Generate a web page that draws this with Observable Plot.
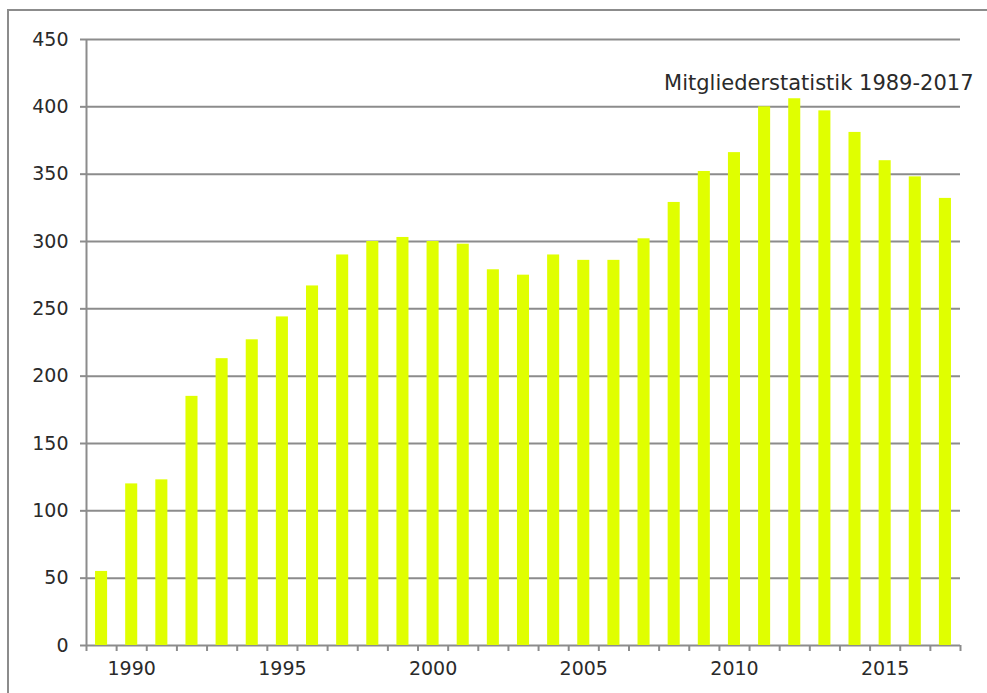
<!DOCTYPE html>
<html>
<head>
<meta charset="utf-8">
<script src="https://cdn.jsdelivr.net/npm/d3@7"></script>
<script src="https://cdn.jsdelivr.net/npm/@observablehq/plot@0.6"></script>
<style>
  html, body { margin: 0; padding: 0; background: #fff; overflow: hidden; }
  #wrap { position: relative; width: 987px; height: 693px; }
  #border { position: absolute; left: 7px; top: 9px; width: 1000px; height: 700px;
            border-left: 2px solid #8c8c8c; border-top: 2px solid #8c8c8c; }
  #chart { position: absolute; left: 0; top: 0; }
</style>
</head>
<body>
<div id="wrap"><div id="border"></div><div id="chart"></div></div>
<script>
const title = "Mitgliederstatistik 1989-2017";
const years = [1989, 1990, 1991, 1992, 1993, 1994, 1995, 1996, 1997, 1998,
               1999, 2000, 2001, 2002, 2003, 2004, 2005, 2006, 2007, 2008,
               2009, 2010, 2011, 2012, 2013, 2014, 2015, 2016, 2017];
const members = [55, 120, 123, 185, 213, 227, 244, 267, 290, 300,
                 303, 300, 298, 279, 275, 290, 286, 286, 302, 329,
                 352, 366, 400, 406, 397, 381, 360, 348, 332];
const yTicks = [0, 50, 100, 150, 200, 250, 300, 350, 400, 450];
const xLabels = [1990, 1995, 2000, 2005, 2010, 2015];

const data = years.map((y, i) => ({year: y, value: members[i]}));
const xMin = years[0] - 0.5, xMax = years[years.length - 1] + 0.5;
const boundaries = d3.range(xMin, xMax + 0.01, 1);
const gray = "#8c8c8c";
const ink = "#2a2a2a";

const chart = Plot.plot({
  width: 987,
  height: 693,
  marginLeft: 86,
  marginRight: 27,
  marginTop: 39,
  marginBottom: 48,
  style: {fontFamily: "'DejaVu Sans', sans-serif", fontSize: "19px", color: ink, background: "transparent"},
  x: {domain: [xMin, xMax]},
  y: {domain: [0, 450]},
  marks: [
    Plot.ruleY(yTicks, {stroke: gray, strokeWidth: 2}),
    Plot.axisY({ticks: yTicks, tickSize: 6, tickPadding: 12, stroke: gray, strokeWidth: 2, strokeOpacity: 1, fill: ink, label: null}),
    Plot.rectY(data, {x1: d => d.year - 0.2, x2: d => d.year + 0.2, y: "value", fill: "#e0ff00"}),
    Plot.ruleX([xMin], {y1: 0, y2: 450, stroke: gray, strokeWidth: 2}),
    Plot.axisX({ticks: boundaries, tickSize: 6, tickFormat: () => "", stroke: gray, strokeWidth: 2, strokeOpacity: 1, label: null}),
    Plot.axisX({ticks: xLabels, tickSize: 0, tickPadding: 16, tickFormat: d => String(d), fill: ink, label: null}),
    Plot.text([title], {frameAnchor: "top-right", textAnchor: "end", dx: 13, dy: 36, fontSize: 21, fill: ink})
  ]
});
document.getElementById("chart").appendChild(chart);
</script>
</body>
</html>
